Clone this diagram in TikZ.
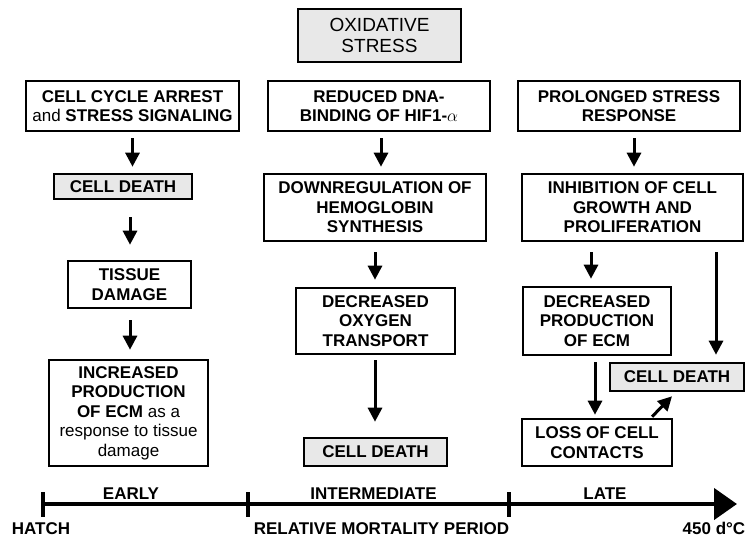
\documentclass[tikz,border=0pt]{standalone}
\usepackage{fontspec}
\setmainfont{Liberation Sans}
\usetikzlibrary{arrows.meta,calc}
\definecolor{boxgray}{HTML}{E8E8E8}
\begin{document}
\begin{tikzpicture}[x=1pt,y=-1pt,
  box/.style={draw, line width=2.6pt, align=center, inner sep=0pt,
    font=\fontsize{17}{19.5}\selectfont\bfseries},
  gbox/.style={box, fill=boxgray},
  arr/.style={line width=3pt, -{Triangle[length=14pt,width=14pt]}},
  lab/.style={anchor=base, inner sep=0pt, font=\fontsize{17}{19.5}\selectfont\bfseries},
  axis/.style={line width=4.5pt},
  tick/.style={line width=4pt},
]
\useasboundingbox (0,0) rectangle (748,539);

% top
\node[gbox, minimum width=163pt, minimum height=53pt,
  font=\fontsize{19}{20.5}\selectfont\mdseries] (ox) at (379.5,35.5) {OXIDATIVE\\STRESS};

% row 1
\node[box, minimum width=213pt, minimum height=50pt] (cca) at (132.5,106)
  {CELL CYCLE ARREST\\{\mdseries and} STRESS SIGNALING};
\node[box, minimum width=222pt, minimum height=50pt] (red) at (379,106)
  {REDUCED DNA-\\BINDING OF HIF1-$\alpha$};
\node[box, minimum width=222pt, minimum height=50pt] (pro) at (629,106)
  {PROLONGED STRESS\\RESPONSE};

% row 2
\node[gbox, minimum width=138pt, minimum height=25pt] (cd1) at (123,186.5) {CELL DEATH};
\node[box, minimum width=222pt, minimum height=67pt] (down) at (375,207.5)
  {DOWNREGULATION OF\\HEMOGLOBIN\\SYNTHESIS};
\node[box, minimum width=221pt, minimum height=67pt] (inh) at (632.5,207.5)
  {INHIBITION OF CELL\\GROWTH AND\\PROLIFERATION};

% row 3
\node[box, minimum width=123pt, minimum height=47pt] (tis) at (129.5,284.5) {TISSUE\\DAMAGE};
\node[box, minimum width=159pt, minimum height=66pt] (dox) at (375.5,321)
  {DECREASED\\OXYGEN\\TRANSPORT};
\node[box, minimum width=148pt, minimum height=68pt] (dprod) at (597,321)
  {DECREASED\\PRODUCTION\\OF ECM};

% row 4
\node[box, minimum width=159pt, minimum height=106pt] (inc) at (128.5,413)
  {INCREASED\\PRODUCTION\\OF ECM {\mdseries as a}\\{\mdseries response to tissue}\\{\mdseries damage}};
\node[gbox, minimum width=143pt, minimum height=28pt] (cd2) at (375.5,452) {CELL DEATH};
\node[gbox, minimum width=134pt, minimum height=28pt] (cd3) at (677,377) {CELL DEATH};
\node[box, minimum width=150pt, minimum height=47pt] (loss) at (597,442.5)
  {LOSS OF CELL\\CONTACTS};

% arrows
\draw[arr] ($(cca.south)+(0,6)$) -- ($(cca.south |- cd1.north)+(0,-6)$);
\draw[arr] ($(cd1.south)+(7,17)$) -- ($(tis.north)+(0.5,-15)$);
\draw[arr] ($(tis.south)+(0.5,11)$) -- ($(tis.south |- inc.north)+(0.5,-9)$);
\draw[arr] ($(red.south)+(2,6)$) -- ($(down.north)+(6,-6)$);
\draw[arr] ($(down.south)+(0,10)$) -- ($(dox.north)+(-0.5,-7)$);
\draw[arr] ($(dox.south)+(-0.5,5)$) -- ($(cd2.north)+(-0.5,-15)$);
\draw[arr] ($(pro.south)+(5,6)$) -- ($(inh.north)+(1.5,-6)$);
\draw[arr] ($(inh.south)+(-41.5,10)$) -- ($(dprod.north)+(-6,-7)$);
\draw[arr] ($(inh.south)+(83.5,10)$) -- ($(cd3.north)+(39,-7)$);
\draw[arr] ($(dprod.south)+(-2,6)$) -- ($(loss.north)+(-2,-3)$);
\draw[arr] ($(loss.north)+(55,-1)$) -- ($(cd3.south)+(-5,4)$);

% timeline
\coordinate (t0) at (43,504);
\coordinate (t1) at (248,504);
\coordinate (t2) at (509,504);
\coordinate (tend) at (737,504);
\draw[axis, -{Triangle[length=23pt,width=31pt]}] (t0) -- (tend);
\foreach \t in {t0,t1,t2}
  \draw[tick] ($(\t)+(0,-12)$) -- ($(\t)+(0,13)$);

\node[lab] (early) at (131,499.5) {EARLY};
\node[lab] (inter) at (373.5,499.5) {INTERMEDIATE};
\node[lab] (late) at (605,499.5) {LATE};
\node[lab] (hatch) at (41,534.5) {HATCH};
\node[lab] (rmp) at (381.5,534.5) {RELATIVE MORTALITY PERIOD};
\node[lab] (end) at (714,534.5) {450 d°C};
\end{tikzpicture}
\end{document}
